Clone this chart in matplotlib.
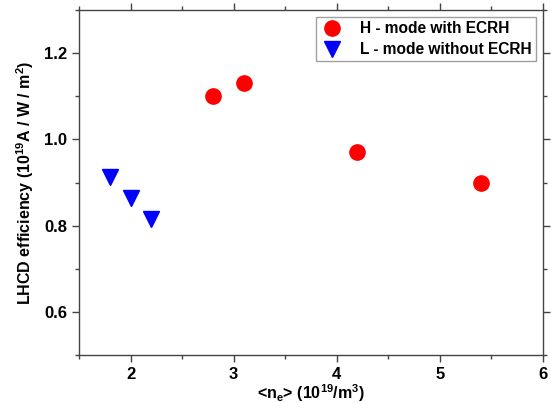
import matplotlib
matplotlib.use("Agg")
import matplotlib.pyplot as plt
from matplotlib.ticker import MultipleLocator

plt.rcParams['font.family'] = ['Liberation Sans', 'DejaVu Sans']
plt.rcParams['font.weight'] = 'bold'
plt.rcParams['mathtext.fontset'] = 'custom'
plt.rcParams['mathtext.rm'] = 'Liberation Sans:bold'
plt.rcParams['mathtext.bf'] = 'Liberation Sans:bold'
plt.rcParams['mathtext.default'] = 'bf'

# line-averaged density (10^19 m^-3) and LHCD efficiency
h_ne = [2.8, 3.1, 4.2, 5.4]
h_eff = [1.10, 1.13, 0.97, 0.90]
l_ne = [1.8, 2.0, 2.2]
l_eff = [0.912, 0.864, 0.816]

fig = plt.figure(figsize=(5.51, 4.03), dpi=100)
ax = fig.add_axes([0.1434, 0.119, 0.8421, 0.856])

ax.plot(h_ne, h_eff, 'o', color='#ff0000', markersize=11, linestyle='none',
        label='H - mode with ECRH')
ax.plot(l_ne, l_eff, 'v', color='#0000ff', markersize=12, linestyle='none',
        label='L - mode without ECRH')

ax.set_xlim(1.5, 6)
ax.set_ylim(0.5, 1.3)
ax.xaxis.set_major_locator(MultipleLocator(1))
ax.xaxis.set_minor_locator(MultipleLocator(0.5))
ax.yaxis.set_major_locator(MultipleLocator(0.2))
ax.yaxis.set_minor_locator(MultipleLocator(0.1))
ax.set_xticks([2, 3, 4, 5, 6])
ax.set_yticks([0.6, 0.8, 1.0, 1.2])

for s in ax.spines.values():
    s.set_color('#444444')
    s.set_linewidth(1.0)
ax.tick_params(which='both', direction='out', top=True, right=True,
               labeltop=False, labelright=False, colors='#444444',
               labelcolor='black', labelsize=12)
ax.tick_params(which='major', length=5, width=1)
ax.tick_params(which='minor', length=3, width=1)

ax.set_xlabel(r'<n$_e$> (10$^{19}$/m$^3$)', fontsize=11.5, fontweight='bold', labelpad=0)
ax.set_ylabel(r'LHCD efficiency (10$^{19}$A / W / m$^2$)', fontsize=11.5,
              fontweight='bold', labelpad=6)

leg = ax.legend(loc='upper right', fontsize=11.2, frameon=True, fancybox=False,
                edgecolor='#888888', borderaxespad=0.45, handletextpad=1.0,
                handlelength=1.6, labelspacing=0.4, borderpad=0.25)
leg.get_frame().set_linewidth(1.0)

fig.savefig('out.png', dpi=100)
